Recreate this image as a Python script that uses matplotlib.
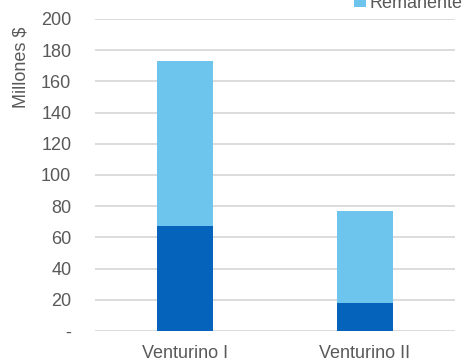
import numpy as np
import matplotlib.pyplot as plt

# Inversion por proyecto (millones de $)
proyectos = ["Venturino I", "Venturino II"]
ejecutado = [67, 18]
remanente = [106, 59]

c_oscuro = "#0563BB"
c_claro = "#6DC4EC"
c_texto = "#595959"

plt.rcParams["font.family"] = ["Liberation Sans", "DejaVu Sans"]

fig = plt.figure(figsize=(4.64, 3.63), dpi=100)
ax = fig.add_axes([0.2047, 0.0882, 0.7759, 0.8595])

x = np.arange(len(proyectos))
ancho = 0.31

ax.bar(x, ejecutado, width=ancho, color=c_oscuro, label="Ejecutado", zorder=2)
ax.bar(x, remanente, width=ancho, bottom=ejecutado, color=c_claro,
       label="Remanente", zorder=2)

ax.set_xlim(-0.5, 1.5)
ax.set_ylim(0, 200)
ax.set_yticks(np.arange(0, 201, 20))
ax.set_yticklabels(["-"] + [str(v) for v in range(20, 201, 20)])
ax.set_xticks(x)
ax.set_xticklabels(proyectos)

ax.tick_params(axis="y", length=0, pad=17, labelsize=13, labelcolor=c_texto)
ax.tick_params(axis="x", length=0, pad=10, labelsize=13, labelcolor=c_texto)

ax.grid(axis="y", color="#D9D9D9", linewidth=1.3, zorder=0)
ax.set_axisbelow(True)
for s in ax.spines.values():
    s.set_visible(False)

ax.set_ylabel("Millones $", fontsize=13, color=c_texto)
ax.yaxis.set_label_coords(-0.182, 0.846)

fig.legend(loc="lower left", bbox_to_anchor=(0.764, 0.968), ncol=1,
           frameon=False, borderaxespad=0, borderpad=0,
           handlelength=0.65, handleheight=0.65, handletextpad=0.2,
           labelspacing=0.3, fontsize=13, labelcolor=c_texto)

fig.savefig("out.png", dpi=100)
